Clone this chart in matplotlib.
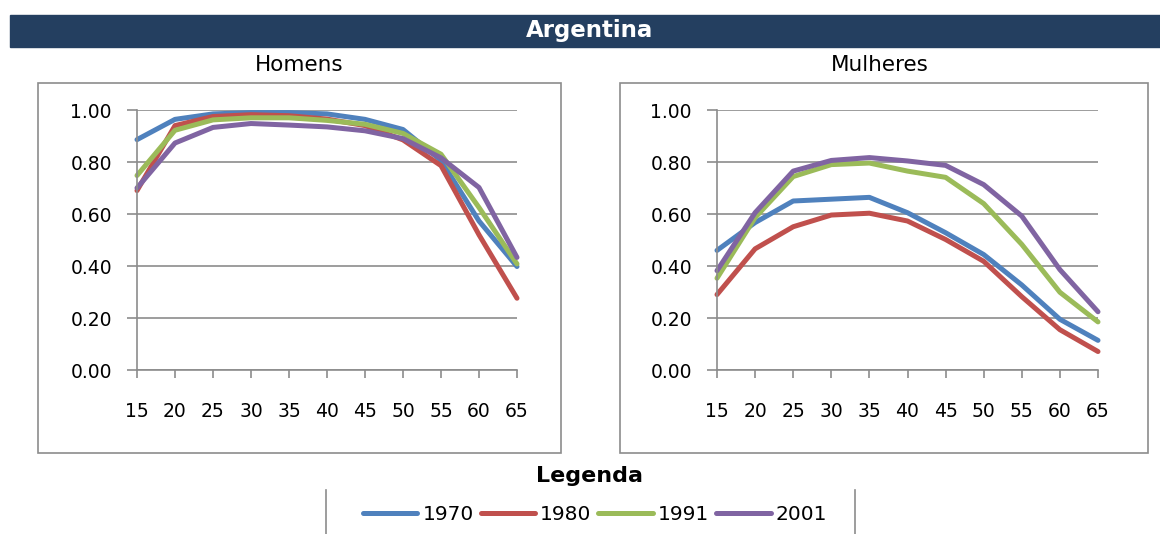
import matplotlib.pyplot as plt
from matplotlib.patches import Rectangle
from matplotlib.lines import Line2D

# data
idades = [15, 20, 25, 30, 35, 40, 45, 50, 55, 60, 65]
anos = ["1970", "1980", "1991", "2001"]
cores = ["#4F81BD", "#C0504D", "#9BBB59", "#8064A2"]

homens_1970 = [0.886, 0.964, 0.985, 0.99, 0.99, 0.985, 0.964, 0.925, 0.806, 0.573, 0.398]
homens_1980 = [0.69, 0.94, 0.975, 0.982, 0.978, 0.965, 0.94, 0.885, 0.786, 0.52, 0.276]
homens_1991 = [0.748, 0.922, 0.962, 0.97, 0.97, 0.96, 0.945, 0.91, 0.83, 0.625, 0.408]
homens_2001 = [0.70, 0.873, 0.933, 0.948, 0.942, 0.935, 0.92, 0.89, 0.816, 0.702, 0.433]

mulheres_1970 = [0.46, 0.567, 0.65, 0.657, 0.664, 0.605, 0.528, 0.444, 0.327, 0.195, 0.114]
mulheres_1980 = [0.29, 0.466, 0.551, 0.596, 0.603, 0.573, 0.502, 0.418, 0.282, 0.155, 0.071]
mulheres_1991 = [0.353, 0.586, 0.744, 0.79, 0.796, 0.765, 0.741, 0.64, 0.483, 0.299, 0.185]
mulheres_2001 = [0.382, 0.605, 0.765, 0.806, 0.817, 0.804, 0.787, 0.713, 0.592, 0.386, 0.224]

homens = [homens_1970, homens_1980, homens_1991, homens_2001]
mulheres = [mulheres_1970, mulheres_1980, mulheres_1991, mulheres_2001]

W, H = 1160, 534
fig = plt.figure(figsize=(W / 100, H / 100), dpi=100)
plt.rcParams['font.family'] = ['DejaVu Sans']


def px(x0, y0, x1, y1):
    # pixel box -> figure fraction [left, bottom, width, height]
    return [x0 / W, (H - y1) / H, (x1 - x0) / W, (y1 - y0) / H]


# title bar
fig.patches.append(Rectangle((10 / W, (H - 47) / H), 1150 / W, 32 / H,
                             transform=fig.transFigure, color="#243F60", zorder=0))
fig.text(590 / W, (H - 31) / H, "Argentina", color="white", fontsize=16.5,
         fontweight="bold", ha="center", va="center")

# boxes round the panels
for bx in [(38, 83, 561, 453), (620, 83, 1148, 453)]:
    fig.patches.append(Rectangle((bx[0] / W, (H - bx[3]) / H), (bx[2] - bx[0]) / W,
                                 (bx[3] - bx[1]) / H, transform=fig.transFigure,
                                 fill=False, edgecolor="#8C8C8C", linewidth=1.2))

paineis = [("Homens", homens, (137, 110, 517, 370), 299),
           ("Mulheres", mulheres, (717, 110, 1098, 370), 880)]

linhas = []
for titulo, dados, box, tx in paineis:
    fig.text(tx / W, (H - 65) / H, titulo, fontsize=15.5, ha="center", va="center")
    ax = fig.add_axes(px(*box))
    for serie, cor, ano in zip(dados, cores, anos):
        l, = ax.plot(idades, serie, color=cor, linewidth=3.6, label=ano,
                     solid_capstyle="round", solid_joinstyle="round")
        if titulo == "Homens":
            linhas.append(l)
    ax.set_xlim(15, 65)
    ax.set_ylim(0, 1)
    ax.set_xticks(idades)
    ax.set_yticks([0, 0.2, 0.4, 0.6, 0.8, 1.0])
    ax.set_yticklabels(["%.2f" % v for v in [0, 0.2, 0.4, 0.6, 0.8, 1.0]])
    ax.yaxis.grid(True, color="#8C8C8C", linewidth=1.2)
    ax.set_axisbelow(True)
    for s in ["top", "right"]:
        ax.spines[s].set_visible(False)
    for s in ["left", "bottom"]:
        ax.spines[s].set_color("#8C8C8C")
        ax.spines[s].set_linewidth(1.2)
    ax.tick_params(axis="x", direction="out", length=6, width=1.2, color="#8C8C8C",
                   pad=17, labelsize=13.5)
    ax.tick_params(axis="y", direction="out", length=7, width=1.2, color="#8C8C8C",
                   pad=11, labelsize=13.5)
    for l in ax.lines:
        l.set_clip_on(False)

# legend
fig.text(590 / W, (H - 476) / H, "Legenda", fontsize=16, fontweight="bold",
         ha="center", va="center")
for xv in [326, 855]:
    fig.add_artist(Line2D([xv / W, xv / W], [0, (H - 490) / H], color="#8C8C8C",
                          linewidth=1.2, transform=fig.transFigure))
fig.legend(handles=linhas, labels=anos, loc="center", ncol=4,
           bbox_to_anchor=(595 / W, (H - 515) / H), frameon=False, fontsize=14.5,
           handlelength=2.7, handletextpad=0.25, columnspacing=0.35)

fig.savefig("out.png", dpi=100)
